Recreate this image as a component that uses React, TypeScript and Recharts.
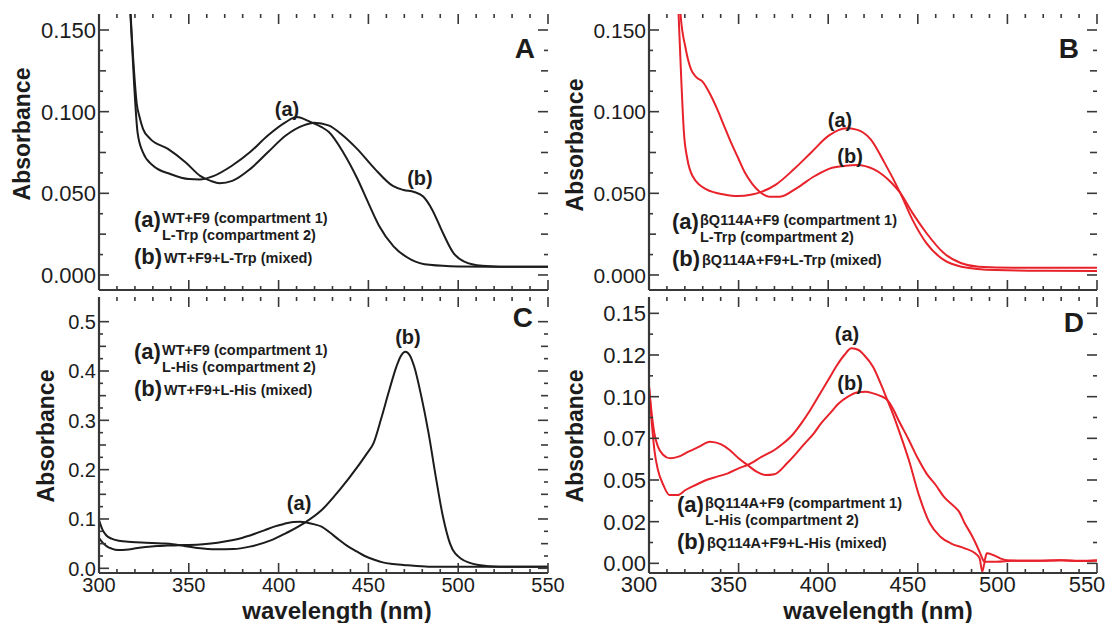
import { LineChart, Line, XAxis, YAxis, ReferenceDot } from "recharts";

type Pt = [number, number];

const INK = "#1c1c1c";
const FRAME = "#383838";
const RED = "#e8222a";
const FONT = "'Liberation Sans', Arial, Helvetica, sans-serif";

// x axis: small ticks every 10 nm, long ticks and labels every 50 nm
const X_TICKS = [
  300, 310, 320, 330, 340, 350, 360, 370, 380, 390, 400, 410, 420, 430, 440,
  450, 460, 470, 480, 490, 500, 510, 520, 530, 540, 550,
];
const X_MAJOR = [300, 350, 400, 450, 500, 550];
const X_LABELS = ["300", "350", "400", "450", "500", "550"];

const Y_TICKS_FINE = [
  0, 0.0125, 0.025, 0.0375, 0.05, 0.0625, 0.075, 0.0875, 0.1, 0.1125, 0.125,
  0.1375, 0.15,
];
const Y_MID_AB = [0, 0.025, 0.05, 0.075, 0.1, 0.125, 0.15];
const Y_MAJOR_AB = [0, 0.05, 0.1, 0.15];
const Y_LABELS_AB = ["0.000", "0.050", "0.100", "0.150"];

const Y_TICKS_C = [
  0, 0.025, 0.05, 0.075, 0.1, 0.125, 0.15, 0.175, 0.2, 0.225, 0.25, 0.275, 0.3,
  0.325, 0.35, 0.375, 0.4, 0.425, 0.45, 0.475, 0.5,
];
const Y_MID_C = [0, 0.05, 0.1, 0.15, 0.2, 0.25, 0.3, 0.35, 0.4, 0.45, 0.5];
const Y_MAJOR_C = [0, 0.1, 0.2, 0.3, 0.4, 0.5];
const Y_LABELS_C = ["0.0", "0.1", "0.2", "0.3", "0.4", "0.5"];

const Y_MAJOR_D = [0, 0.025, 0.05, 0.075, 0.1, 0.125, 0.15];
const Y_LABELS_D = ["0.00", "0.02", "0.05", "0.07", "0.10", "0.12", "0.15"];

// panel A: WT+F9 / L-Trp
const A_SEPARATE: Pt[] = [
  [300, 1.2], [305, 0.75], [310, 0.42], [314, 0.24], [317.5, 0.16], [319.5, 0.118],
  [321.5, 0.087], [324.5, 0.075], [330, 0.067], [340, 0.0617], [350, 0.0587],
  [356, 0.0585], [364, 0.0607], [374, 0.0669], [384, 0.0751], [394, 0.0854],
  [404, 0.0936], [410, 0.0967], [418, 0.0935], [424, 0.0905], [428, 0.0875],
  [436, 0.075], [444, 0.0586], [450, 0.044], [456, 0.03], [464, 0.0175],
  [474, 0.0093], [484, 0.0062], [500, 0.0052], [525, 0.005], [550, 0.005],
];
const A_MIXED: Pt[] = [
  [300, 1.2], [305, 0.78], [310, 0.45], [314, 0.26], [317.5, 0.162], [319.5, 0.125],
  [321, 0.105], [322.5, 0.097], [324.5, 0.0895], [328.4, 0.0835], [338.4, 0.0772],
  [348.3, 0.0689], [356.3, 0.0607], [362.2, 0.0576], [367.2, 0.0562], [374.2, 0.0576],
  [384.1, 0.0648], [394, 0.0751], [404, 0.0854], [413.9, 0.0916], [419.9, 0.0932],
  [427.8, 0.0916], [435.8, 0.0854], [443.7, 0.0772], [453.7, 0.0648], [463.6, 0.0545],
  [469.6, 0.052], [475.5, 0.0508], [480.5, 0.048], [485.5, 0.04], [491.5, 0.0257],
  [497.4, 0.0134], [503.4, 0.0082], [513.3, 0.0056], [523, 0.0051], [550, 0.005],
];

// panel B: bQ114A+F9 / L-Trp
const B_SEPARATE: Pt[] = [
  [300, 1.2], [305, 0.7], [310, 0.38], [314, 0.22], [316.5, 0.16], [318, 0.12],
  [319.5, 0.087], [321.4, 0.071], [324.3, 0.0606], [332.1, 0.0524], [341.9, 0.0493],
  [349.6, 0.0483], [357.4, 0.0493], [362.3, 0.0507], [371, 0.0555], [380.8, 0.0647],
  [390.5, 0.075], [400.3, 0.0853], [410, 0.0898], [415.8, 0.089], [423.6, 0.0832],
  [431.4, 0.0688], [440.2, 0.0503], [447, 0.0339], [454.8, 0.0195], [464.5, 0.0092],
  [474.3, 0.0051], [493.7, 0.003], [520, 0.0026], [550, 0.0025],
];
const B_MIXED: Pt[] = [
  [300, 1.3], [305, 0.8], [310, 0.45], [314, 0.25], [317.5, 0.161], [320.4, 0.139],
  [323.4, 0.126], [326.5, 0.121], [330.2, 0.118], [334, 0.111], [338, 0.1017],
  [342, 0.091], [345.8, 0.081], [350, 0.071], [353.5, 0.0627], [357.5, 0.056],
  [361.3, 0.0514], [367.2, 0.0479], [373, 0.0479], [382.7, 0.0534], [392.5, 0.0606],
  [402.2, 0.0657], [409, 0.0668], [415.8, 0.0674], [425.6, 0.0647], [435.3, 0.0565],
  [440.2, 0.0503], [447, 0.038], [454.8, 0.0257], [464.5, 0.0134], [474.3, 0.0072],
  [484, 0.0051], [503.5, 0.0045], [550, 0.0045],
];

// panel C: WT+F9 / L-His
const C_SEPARATE: Pt[] = [
  [300, 0.061], [302, 0.052], [304.6, 0.044], [307, 0.04], [310.5, 0.037], [315, 0.0375],
  [320.5, 0.0405], [326, 0.043], [332.4, 0.045], [338, 0.046], [344.3, 0.047],
  [350, 0.0475], [358, 0.049], [366, 0.052], [374, 0.057], [380, 0.062], [386, 0.069],
  [392, 0.077], [398, 0.085], [403, 0.09], [408, 0.094], [412, 0.0945], [416, 0.0925],
  [420, 0.089], [423.9, 0.0845], [428, 0.074], [433.8, 0.0574], [438, 0.046],
  [443.7, 0.0338], [448, 0.025], [453.7, 0.0169], [458, 0.012], [463.6, 0.0088],
  [472, 0.006], [483.5, 0.0034], [500, 0.003], [550, 0.003],
];
const C_MIXED: Pt[] = [
  [300, 0.098], [302, 0.078], [304, 0.067], [307, 0.06], [311, 0.056], [318, 0.0535],
  [326, 0.052], [335, 0.0505], [341, 0.049], [346, 0.046], [355, 0.041], [365, 0.0385],
  [375, 0.039], [384, 0.044], [396, 0.057], [404, 0.071], [414, 0.091], [424, 0.118],
  [434, 0.159], [444, 0.206], [449, 0.232], [453, 0.255], [457, 0.302], [461.6, 0.361],
  [465.6, 0.409], [468, 0.43], [470.6, 0.439], [473, 0.432], [475.5, 0.409],
  [479.5, 0.348], [483.5, 0.274], [487.5, 0.186], [491.5, 0.105], [495.4, 0.0507],
  [501.4, 0.02], [511.3, 0.0068], [523, 0.0034], [550, 0.003],
];

// panel D: bQ114A+F9 / L-His
const D_SEPARATE: Pt[] = [
  [300, 0.106], [301.5, 0.085], [303, 0.068], [305, 0.056], [308, 0.047], [311.5, 0.041],
  [316, 0.041], [320.4, 0.044], [326, 0.047], [332, 0.05], [338, 0.052], [344, 0.054],
  [350, 0.057], [355, 0.059], [363, 0.064], [370, 0.068], [375, 0.072], [380, 0.077],
  [385, 0.084], [390, 0.092], [395, 0.101], [400, 0.11], [405, 0.119], [409, 0.125],
  [413, 0.129], [417, 0.128], [420, 0.125], [425, 0.118], [430, 0.106], [433, 0.098],
  [436, 0.09], [440, 0.078], [445, 0.062], [450.9, 0.04], [456.7, 0.024], [462.6, 0.016],
  [468.4, 0.012], [476.2, 0.009], [482, 0.006], [484.5, 0.003], [486, -0.005],
  [487.5, 0.001], [493.7, 0.001], [503.5, 0.0016], [515, 0.0015], [530, 0.0018],
  [540, 0.0014], [550, 0.0016],
];
const D_MIXED: Pt[] = [
  [300, 0.106], [301.5, 0.09], [303, 0.078], [305, 0.07], [308, 0.065], [311.7, 0.063],
  [316.5, 0.064], [322, 0.067], [328, 0.07], [334, 0.073], [340, 0.0715], [345, 0.068],
  [350, 0.063], [355, 0.059], [360, 0.055], [365, 0.053], [370, 0.0535], [377, 0.06],
  [383, 0.067], [387, 0.072], [392, 0.078], [396, 0.084], [401, 0.09], [406, 0.096],
  [411, 0.1], [416, 0.1025], [421, 0.103], [425, 0.102], [429, 0.1005], [433, 0.098],
  [436, 0.093], [439.2, 0.086], [445, 0.074], [450, 0.063], [454.8, 0.054], [460, 0.047],
  [464.5, 0.04], [470.4, 0.034], [473, 0.031], [476.2, 0.024], [480, 0.017], [484, 0.008],
  [486, 0.003], [487, 0.001], [488.5, 0.006], [492, 0.005], [496, 0.003], [500, 0.0018],
  [510, 0.0015], [520, 0.0016], [530, 0.0019], [540, 0.0015], [550, 0.0018],
];

interface YCfg {
  domain: [number, number];
  major: number[];
  mid: number[];
  minor: number[];
  labels: string[];
}

interface Note {
  x: number;
  y: number;
  text: string;
}

interface PanelProps {
  left: number;
  top: number;
  width: number;
  height: number;
  marginTop: number;
  marginRight: number;
  yWidth: number;
  xHeight: number;
  y: YCfg;
  fontSize: number;
  xLabels: boolean;
  xLabelDx: number;
  color: string;
  curves: Pt[][];
  notes: Note[];
}

const FRAME_LINE = { stroke: FRAME, strokeWidth: 2.2 };
const has = (list: number[], v: number) => list.some((m) => Math.abs(m - v) < 1e-6);

function Panel(p: PanelProps) {
  const plotW = p.width - p.marginRight - p.yWidth;
  const plotH = p.height - p.marginTop - p.xHeight;

  // bottom-axis ticks also draw the matching inward tick on the top edge
  const xTick = (props: any) => {
    const x = Number(props.x);
    const y = Number(props.y);
    const v = Number(props.payload.value);
    const i = X_MAJOR.indexOf(v);
    const len = i >= 0 ? 10 : 4;
    return (
      <g>
        <line x1={x} y1={y} x2={x} y2={y - len} stroke={FRAME} strokeWidth={1.6} />
        <line x1={x} y1={y - plotH} x2={x} y2={y - plotH + len} stroke={FRAME} strokeWidth={1.6} />
        {p.xLabels && i >= 0 && (
          <text x={x + p.xLabelDx} y={y + 19} textAnchor="middle" fontSize={p.fontSize} fontFamily={FONT} fill={INK}>
            {X_LABELS[i]}
          </text>
        )}
      </g>
    );
  };

  // left-axis ticks also draw the matching inward tick on the right edge
  const yTick = (props: any) => {
    const x = Number(props.x);
    const y = Number(props.y);
    const v = Number(props.payload.value);
    const i = p.y.major.findIndex((m) => Math.abs(m - v) < 1e-6);
    const len = i >= 0 ? 10 : has(p.y.mid, v) ? 7 : 4;
    return (
      <g>
        <line x1={x} y1={y} x2={x + len} y2={y} stroke={FRAME} strokeWidth={1.6} />
        <line x1={x + plotW} y1={y} x2={x + plotW - len} y2={y} stroke={FRAME} strokeWidth={1.6} />
        {i >= 0 && (
          <text x={x - 3} y={y + p.fontSize * 0.36} textAnchor="end" fontSize={p.fontSize} fontFamily={FONT} fill={INK}>
            {p.y.labels[i]}
          </text>
        )}
      </g>
    );
  };

  return (
    <div style={{ position: "absolute", left: p.left, top: p.top }}>
      <LineChart
        width={p.width}
        height={p.height}
        margin={{ top: p.marginTop, right: p.marginRight, bottom: 0, left: 0 }}
        style={{ overflow: "visible" }}
      >
        <XAxis
          xAxisId="b"
          type="number"
          dataKey="nm"
          domain={[300, 550]}
          allowDataOverflow
          ticks={X_TICKS}
          interval={0}
          height={p.xHeight}
          tickSize={0}
          tickMargin={0}
          tickLine={false}
          axisLine={FRAME_LINE}
          tick={xTick}
        />
        <XAxis
          xAxisId="t"
          orientation="top"
          type="number"
          domain={[300, 550]}
          allowDataOverflow
          height={0}
          tick={false}
          tickLine={false}
          axisLine={FRAME_LINE}
        />
        <YAxis
          yAxisId="l"
          type="number"
          domain={p.y.domain}
          allowDataOverflow
          ticks={p.y.minor}
          interval={0}
          width={p.yWidth}
          tickSize={0}
          tickMargin={0}
          tickLine={false}
          axisLine={FRAME_LINE}
          tick={yTick}
        />
        <YAxis
          yAxisId="r"
          orientation="right"
          type="number"
          domain={p.y.domain}
          allowDataOverflow
          width={0}
          tick={false}
          tickLine={false}
          axisLine={FRAME_LINE}
        />
        {p.curves.map((c, i) => (
          <Line
            key={i}
            xAxisId="b"
            yAxisId="l"
            data={c.map(([nm, a]) => ({ nm, a }))}
            dataKey="a"
            type="monotone"
            stroke={p.color}
            strokeWidth={2}
            dot={false}
            activeDot={false}
            isAnimationActive={false}
          />
        ))}
        {p.notes.map((n, i) => (
          <ReferenceDot
            key={"n" + i}
            xAxisId="b"
            yAxisId="l"
            x={n.x}
            y={n.y}
            r={0}
            fill="none"
            stroke="none"
            label={{ value: n.text, position: "center", fontSize: 20, fontWeight: 700, fill: INK, fontFamily: FONT }}
          />
        ))}
      </LineChart>
    </div>
  );
}

const Y_AB: YCfg = { domain: [-0.0092, 0.1598], major: Y_MAJOR_AB, mid: Y_MID_AB, minor: Y_TICKS_FINE, labels: Y_LABELS_AB };
const Y_C: YCfg = { domain: [-0.0095, 0.55], major: Y_MAJOR_C, mid: Y_MID_C, minor: Y_TICKS_C, labels: Y_LABELS_C };
const Y_D: YCfg = { domain: [-0.0058, 0.1598], major: Y_MAJOR_D, mid: Y_MAJOR_D, minor: Y_TICKS_FINE, labels: Y_LABELS_D };

function Legend({ x, y, first, second, mixed }: { x: number; y: number; first: string; second: string; mixed: string }) {
  // y = baseline of the first small line
  const big = { fontSize: 22, fontWeight: 700, fill: INK, fontFamily: FONT } as const;
  const small = { fontSize: 14.5, fontWeight: 700, fill: INK, fontFamily: FONT } as const;
  return (
    <g>
      <text x={x} y={y + 4} {...big}>(a)</text>
      <text x={x + 28} y={y} {...small}>{first}</text>
      <text x={x + 28} y={y + 17} {...small}>{second}</text>
      <text x={x} y={y + 41} {...big}>(b)</text>
      <text x={x + 30} y={y + 40} {...small}>{mixed}</text>
    </g>
  );
}

export default function App() {
  const title = { fontWeight: 700, fill: INK, fontFamily: FONT } as const;
  return (
    <div style={{ position: "absolute", left: 0, top: 0, width: 1107, height: 623, background: "#fff", fontFamily: FONT, overflow: "hidden" }}>
      <Panel
        left={0} top={0} width={560} height={296} marginTop={14} marginRight={12}
        yWidth={99} xHeight={6} y={Y_AB} fontSize={22} xLabels={false} xLabelDx={0}
        color={INK} curves={[A_SEPARATE, A_MIXED]}
        notes={[{ x: 404.7, y: 0.1017, text: "(a)" }, { x: 478.7, y: 0.0594, text: "(b)" }]}
      />
      <Panel
        left={560} top={0} width={547} height={296} marginTop={14} marginRight={10}
        yWidth={89} xHeight={6} y={Y_AB} fontSize={21} xLabels={false} xLabelDx={0}
        color={RED} curves={[B_SEPARATE, B_MIXED]}
        notes={[{ x: 406.6, y: 0.0949, text: "(a)" }, { x: 412.2, y: 0.0729, text: "(b)" }]}
      />
      <Panel
        left={0} top={290} width={580} height={333} marginTop={7} marginRight={32}
        yWidth={99} xHeight={50} y={Y_C} fontSize={20} xLabels={true} xLabelDx={0}
        color={INK} curves={[C_SEPARATE, C_MIXED]}
        notes={[{ x: 411.4, y: 0.1324, text: "(a)" }, { x: 472, y: 0.469, text: "(b)" }]}
      />
      <Panel
        left={560} top={290} width={547} height={333} marginTop={7} marginRight={10}
        yWidth={89} xHeight={50} y={Y_D} fontSize={22} xLabels={true} xLabelDx={-10}
        color={RED} curves={[D_SEPARATE, D_MIXED]}
        notes={[{ x: 410.5, y: 0.1376, text: "(a)" }, { x: 412.2, y: 0.1082, text: "(b)" }]}
      />
      <svg width={1107} height={623} style={{ position: "absolute", left: 0, top: 0, pointerEvents: "none" }}>
        <text x={535} y={58} textAnchor="end" fontSize={28} {...title}>A</text>
        <text x={1079} y={58} textAnchor="end" fontSize={28} {...title}>B</text>
        <text x={533} y={327} textAnchor="end" fontSize={28} {...title}>C</text>
        <text x={1084} y={332} textAnchor="end" fontSize={28} {...title}>D</text>

        <text transform="translate(30,134) rotate(-90)" textAnchor="middle" fontSize={23} {...title}>Absorbance</text>
        <text transform="translate(583,145) rotate(-90)" textAnchor="middle" fontSize={23} {...title}>Absorbance</text>
        <text transform="translate(54,436) rotate(-90)" textAnchor="middle" fontSize={23} {...title}>Absorbance</text>
        <text transform="translate(583,436) rotate(-90)" textAnchor="middle" fontSize={23} {...title}>Absorbance</text>

        <text x={337} y={619} textAnchor="middle" fontSize={24} {...title}>wavelength (nm)</text>
        <text x={878} y={619} textAnchor="middle" fontSize={24} {...title}>wavelength (nm)</text>

        <Legend x={134} y={223} first="WT+F9 (compartment 1)" second="L-Trp (compartment 2)" mixed="WT+F9+L-Trp (mixed)" />
        <Legend x={672} y={225} first="βQ114A+F9 (compartment 1)" second="L-Trp (compartment 2)" mixed="βQ114A+F9+L-Trp (mixed)" />
        <Legend x={134} y={355} first="WT+F9 (compartment 1)" second="L-His (compartment 2)" mixed="WT+F9+L-His (mixed)" />
        <Legend x={677} y={508} first="βQ114A+F9 (compartment 1)" second="L-His (compartment 2)" mixed="βQ114A+F9+L-His (mixed)" />
      </svg>
    </div>
  );
}
